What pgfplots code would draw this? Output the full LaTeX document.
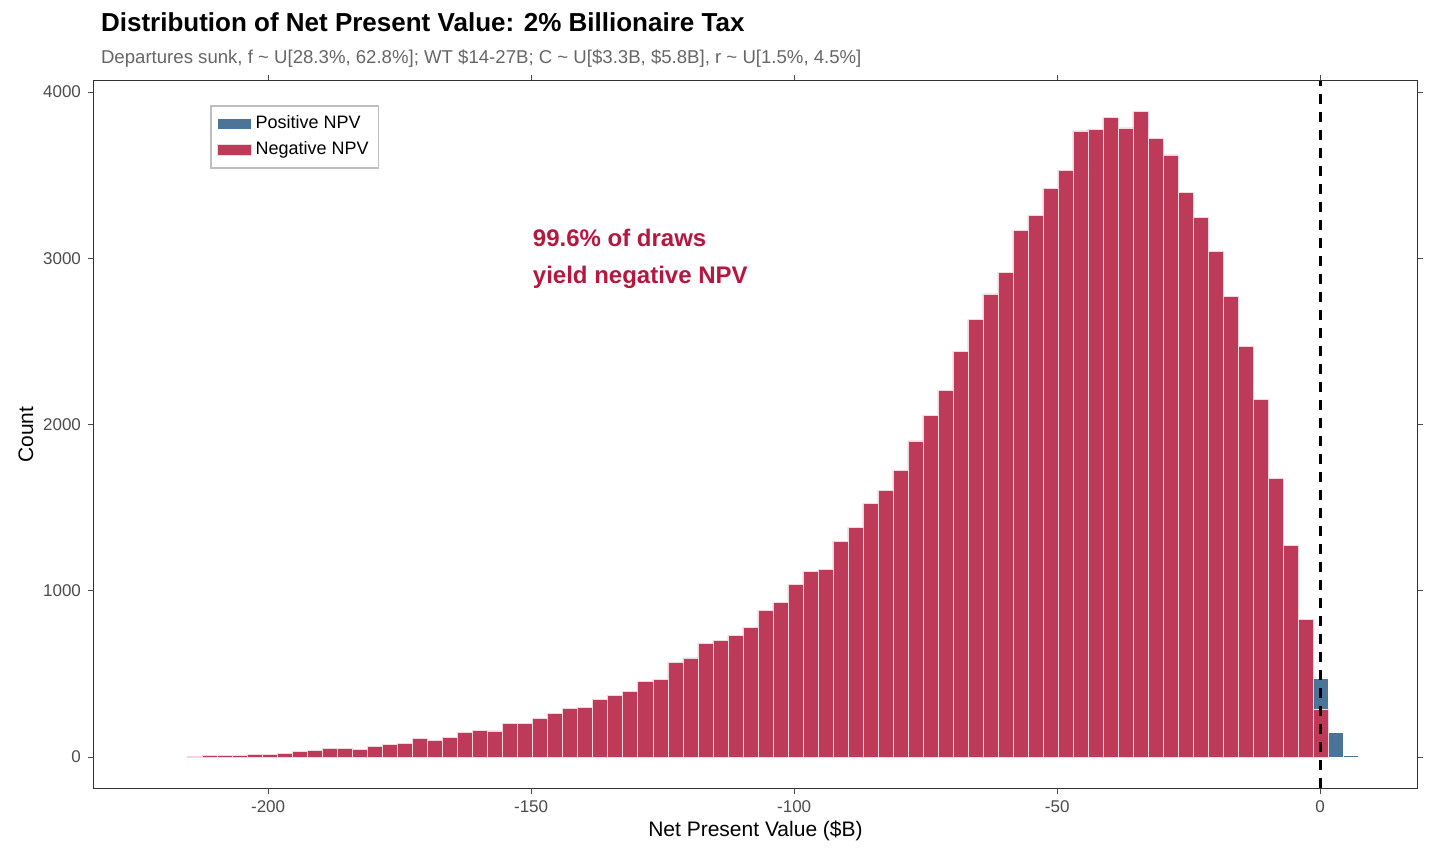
\documentclass[border=0pt]{standalone}
\usepackage{pgfplots}
\pgfplotsset{compat=1.18}
\usepackage{fontspec}
\setmainfont{Liberation Sans}
\usetikzlibrary{calc}
\definecolor{negc}{HTML}{BE3A59}
\definecolor{posc}{HTML}{4A7599}
\definecolor{anno}{HTML}{B5173F}
\begin{document}
\begin{tikzpicture}
\begin{axis}[
  scale only axis, width=661.5pt, height=353.5pt,
  xmin=-233.1, xmax=18.4, ymin=-186, ymax=4066,
  xtick={-200,-150,-100,-50,0}, ytick={0,1000,2000,3000,4000},
  /pgf/number format/assume math mode=true,
  /pgf/number format/set thousands separator={},
  ticklabel style={font=\fontsize{8.5}{10}\selectfont, text=black!70},
  tick align=outside, tick style={black!70, line width=0.4pt}, major tick length=3pt,
  axis line style={black!80, line width=0.5pt},
  xlabel={Net Present Value (\$B)}, ylabel={Count},
  label style={font=\fontsize{10.5}{12}\selectfont},
  xlabel style={yshift=3pt}, ylabel style={yshift=-2pt},
  legend style={at={(rel axis cs:0.0877,0.966)}, anchor=north west, draw=black!25, line width=0.8pt,
    font=\fontsize{9}{11}\selectfont, inner sep=3pt, row sep=1pt},
  legend cell align=left,
  legend image code/.code={\fill[#1] (0pt,-8pt) rectangle (16pt,8pt);},
]
\addplot[ybar, bar width=2.852, fill=posc, draw=white, line width=0.3pt, area legend] coordinates {
(0.04,476) (2.892,149) (5.744,10)};
\addlegendentry{Positive NPV}
\addplot[ybar, bar width=2.852, fill=negc, draw=white!80!negc, line width=0.3pt, area legend] table[x expr={0.04-2.852*\thisrow{m}}, y=c] {
m c
75 4
74 8
73 10
72 10
71 16
70 16
69 22
68 34
67 40
66 52
65 54
64 46
63 64
62 78
61 82
60 110
59 102
58 118
57 148
56 162
55 158
54 202
53 202
52 233
51 265
50 293
49 299
48 347
47 373
46 397
45 455
44 466
43 571
42 597
41 684
40 700
39 730
38 782
37 882
36 928
35 1037
34 1115
33 1127
32 1297
31 1383
30 1526
29 1604
28 1724
27 1901
26 2055
25 2207
24 2440
23 2633
22 2785
21 2916
20 3167
19 3256
18 3420
17 3530
16 3766
15 3776
14 3847
13 3784
12 3881
11 3719
10 3622
9 3397
8 3245
7 3039
6 2772
5 2469
4 2152
3 1676
2 1274
1 826
0 285
};
\addlegendentry{Negative NPV}
\draw[black, line width=1.4pt, dash pattern=on 5pt off 4pt] (axis cs:0,-186) -- (axis cs:0,4066);
\node[anchor=west, align=left, text=anno, font=\bfseries\fontsize{12}{18.5}\selectfont] at (axis cs:-151,2995) {99.6\% of draws\\yield negative NPV};
\end{axis}
\node[anchor=base west, font=\bfseries\fontsize{13}{15}\selectfont] at ($(current axis.north west)+(0,24.5pt)$) {Distribution of Net Present Value: 2\% Billionaire Tax};
\node[anchor=base west, text=black!60, font=\fontsize{9.3}{11}\selectfont] at ($(current axis.north west)+(0,8.5pt)$) {Departures sunk, f \textasciitilde{} U[28.3\%, 62.8\%]; WT \$14-27B; C \textasciitilde{} U[\$3.3B, \$5.8B], r \textasciitilde{} U[1.5\%, 4.5\%]};
\pgfresetboundingbox
\path[use as bounding box] ($(current axis.south west)+(-47pt,-35pt)$) rectangle ($(current axis.north east)+(6.5pt,40.5pt)$);
\end{tikzpicture}
\end{document}
